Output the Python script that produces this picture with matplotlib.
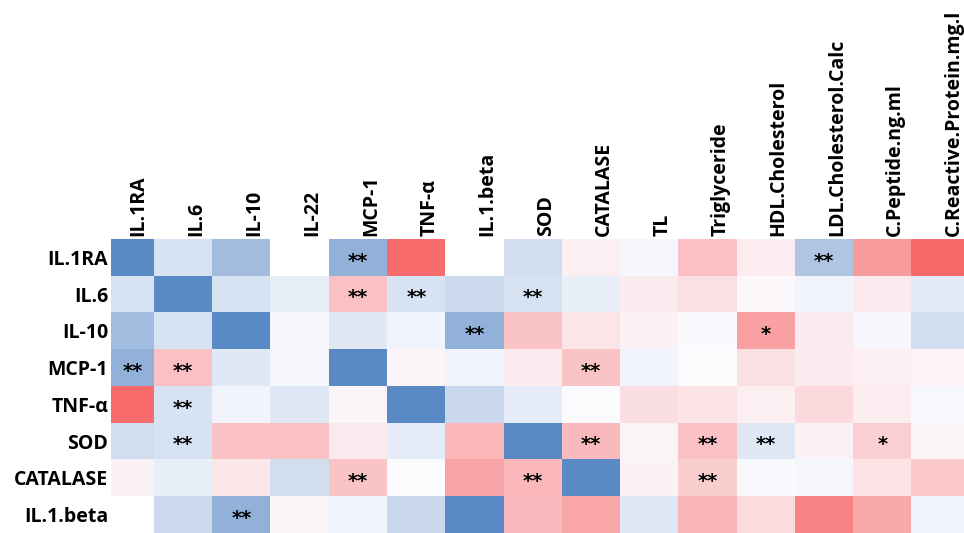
import numpy as np
import matplotlib.pyplot as plt
from matplotlib.colors import LinearSegmentedColormap, TwoSlopeNorm

# Filas y columnas de la tabla
filas = ["IL.1RA", "IL.6", "IL-10", "MCP-1", "TNF-α", "SOD", "CATALASE", "IL.1.beta"]
columnas = ["IL.1RA", "IL.6", "IL-10", "IL-22", "MCP-1", "TNF-α", "IL.1.beta", "SOD",
            "CATALASE", "TL", "Triglyceride", "HDL.Cholesterol", "LDL.Cholesterol.Calc",
            "C.Peptide.ng.ml", "C.Reactive.Protein.mg.l"]

nan = np.nan
# Valores estimados (escala: -0.5 rojo, 0 blanco, 1 azul)
valores = np.array([
    [1.00, 0.23, 0.55, nan, 0.65, -0.49, nan, 0.25, -0.04, 0.04, -0.20, -0.05, 0.47, -0.33, -0.50],
    [0.23, 1.00, 0.22, 0.13, -0.20, 0.22, 0.29, 0.23, 0.11, -0.055, -0.09, -0.015, 0.07, -0.06, 0.15],
    [0.55, 0.22, 1.00, 0.04, 0.17, 0.07, 0.65, -0.19, -0.075, -0.035, 0.01, -0.31, -0.055, 0.04, 0.25],
    [0.65, -0.20, 0.17, 0.04, 1.00, -0.02, 0.07, -0.055, -0.19, 0.07, 0.00, -0.09, -0.055, -0.04, -0.03],
    [-0.49, 0.22, 0.07, 0.17, -0.02, 1.00, 0.31, 0.14, 0.00, -0.10, -0.085, -0.04, -0.115, -0.05, 0.03],
    [0.25, 0.23, -0.195, -0.195, -0.06, 0.14, -0.23, 1.00, -0.22, -0.025, -0.195, 0.17, -0.035, -0.15, -0.025],
    [-0.035, 0.11, -0.07, 0.25, -0.19, 0.00, -0.295, -0.23, 1.00, -0.035, -0.16, 0.02, 0.04, -0.085, -0.175],
    [nan, 0.29, 0.65, -0.02, 0.06, 0.31, 1.00, -0.225, -0.29, 0.19, -0.245, -0.11, -0.415, -0.28, 0.07],
])

# Marcas de significancia
marcas = [
    ["", "", "", "", "**", "", "", "", "", "", "", "", "**", "", ""],
    ["", "", "", "", "**", "**", "", "**", "", "", "", "", "", "", ""],
    ["", "", "", "", "", "", "**", "", "", "", "", "*", "", "", ""],
    ["**", "**", "", "", "", "", "", "", "**", "", "", "", "", "", ""],
    ["", "**", "", "", "", "", "", "", "", "", "", "", "", "", ""],
    ["", "**", "", "", "", "", "", "", "**", "", "**", "**", "", "*", ""],
    ["", "", "", "", "**", "", "", "**", "", "", "**", "", "", "", ""],
    ["", "", "**", "", "", "", "", "", "", "", "", "", "", "", ""],
]

# Escala de color tipo Excel (rojo - blanco - azul)
cmap = LinearSegmentedColormap.from_list("excel", ["#F8696B", "#FCFCFF", "#5A8AC6"])
norm = TwoSlopeNorm(vmin=-0.5, vcenter=0, vmax=1)

fig = plt.figure(figsize=(9.64, 5.33), dpi=100)
ax = fig.add_axes([111 / 964, 0, 1 - 111 / 964, (533 - 239) / 533])

datos = np.ma.masked_invalid(valores)
ax.imshow(datos, cmap=cmap, norm=norm, aspect="auto", interpolation="nearest")

x0, x1 = -0.24, 14.4
for i in range(len(filas)):
    for j in range(len(columnas)):
        if marcas[i][j]:
            # centro de la parte visible de la celda
            xc = (max(j - 0.5, x0) + j + 0.5) / 2
            ax.text(xc, i + 0.1, marcas[i][j], ha="center", va="center",
                    fontsize=14, fontweight="bold", color="black", family="DejaVu Sans")

ax.set_xlim(x0, x1)
ax.set_ylim(7.5, -0.5)

fuente = dict(fontsize=14, fontweight="bold", family="Open Sans")
ax.set_yticks(range(len(filas)))
ax.set_yticklabels(filas, **fuente)
ax.set_xticks(np.arange(len(columnas)) + 0.22)
ax.set_xticklabels(columnas, rotation=90, **fuente)
ax.xaxis.tick_top()
ax.tick_params(length=0, pad=2)
for s in ax.spines.values():
    s.set_visible(False)

fig.savefig("out.png", dpi=100)
